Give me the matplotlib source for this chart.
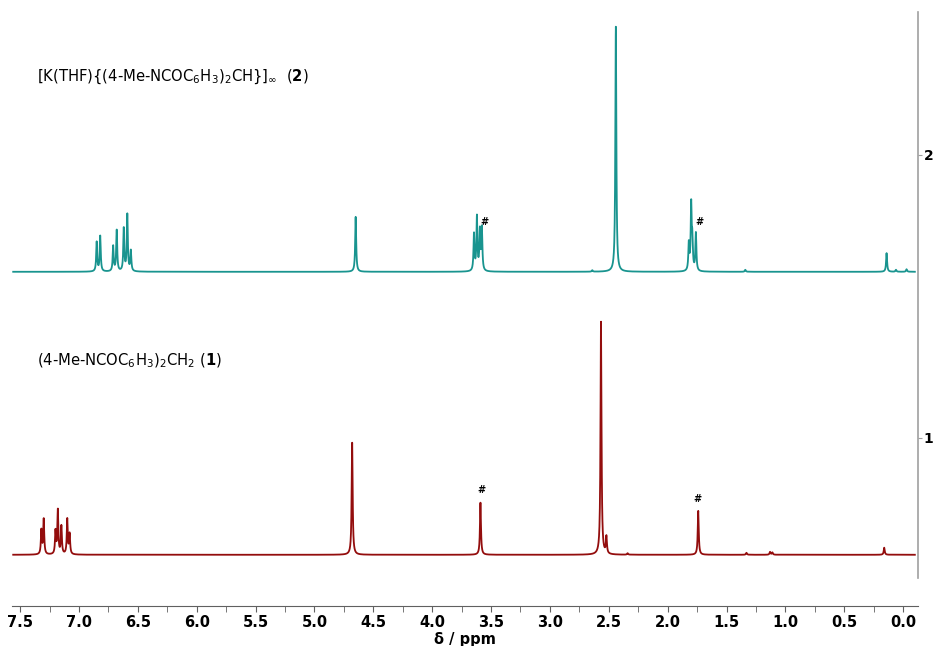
import numpy as np
import matplotlib.pyplot as plt
from matplotlib.ticker import MultipleLocator

# peak lists: position (ppm) and height (intensity above baseline)
top_ppm = [6.85, 6.82, 6.71, 6.68, 6.62, 6.59, 6.56, 4.65,
           3.645, 3.62, 3.595, 3.578, 2.64, 2.44,
           1.82, 1.80, 1.79, 1.76, 1.34, 0.14, 0.06, -0.03]
top_int = [0.104, 0.125, 0.089, 0.145, 0.151, 0.200, 0.072, 0.194,
           0.13, 0.19, 0.14, 0.15, 0.005, 0.866,
           0.095, 0.229, 0.10, 0.134, 0.007, 0.066, 0.007, 0.009]

bot_ppm = [7.32, 7.30, 7.20, 7.18, 7.15, 7.10, 7.08, 4.68,
           3.59, 2.566, 2.52, 2.34, 1.74, 1.33, 1.13, 1.11, 0.16]
bot_int = [0.085, 0.124, 0.081, 0.155, 0.099, 0.124, 0.071, 0.396,
           0.184, 0.823, 0.06, 0.005, 0.155, 0.007, 0.010, 0.008, 0.025]

top_offset = 1.587
bot_offset = 0.587

solvent_top = [3.56, 1.73]
solvent_bot = [3.58, 1.75]

label_top = r'[K(THF){(4-Me-NCOC$_6$H$_3$)$_2$CH}]$_\infty$  ($\mathbf{2}$)'
label_bot = r'(4-Me-NCOC$_6$H$_3$)$_2$CH$_2$ ($\mathbf{1}$)'

teal = '#19948f'
red = '#930d0d'
hwhm = 0.005


def spectrum(ppm, pos, amp, w=hwhm):
    y = np.zeros_like(ppm)
    for p, a in zip(pos, amp):
        y += a * w**2 / ((ppm - p)**2 + w**2)
    return y


plt.rcParams['mathtext.fontset'] = 'dejavusans'

fig = plt.figure(figsize=(9.34, 6.46), dpi=100)
ax = fig.add_axes([0.0128, 0.1053, 0.9701, 0.8761])

x = np.arange(-0.10, 7.56, 0.0005)
ax.plot(x, top_offset + spectrum(x, top_ppm, top_int), color=teal, lw=1.3)
ax.plot(x, bot_offset + spectrum(x, bot_ppm, bot_int), color=red, lw=1.3)

for p in solvent_top:
    ax.text(p, top_offset + 0.176, '#', fontsize=7, fontweight='bold',
            ha='center', va='center')
for p in solvent_bot:
    ax.text(p, bot_offset + 0.229 if p > 3 else bot_offset + 0.197, '#',
            fontsize=7, fontweight='bold', ha='center', va='center')

ax.text(0.0276, 0.885, label_top, transform=ax.transAxes, fontsize=10.6,
        va='center', ha='left')
ax.text(0.0276, 0.383, label_bot, transform=ax.transAxes, fontsize=10.6,
        va='center', ha='left')

ax.set_xlim(7.57, -0.127)
ax.set_ylim(0.505, 2.505)

for s in ['top', 'left']:
    ax.spines[s].set_visible(False)
ax.spines['right'].set_color('#a0a0a0')
ax.spines['right'].set_linewidth(1.2)
ax.spines['bottom'].set_position(('outward', 20))
ax.spines['bottom'].set_color('#606060')

ax.xaxis.set_major_locator(MultipleLocator(0.5))
ax.xaxis.set_minor_locator(MultipleLocator(0.25))
ax.tick_params(axis='x', which='both', direction='out', length=4,
               color='#606060', labelsize=10.5, pad=3)
for t in ax.get_xticklabels():
    t.set_fontweight('bold')
ax.xaxis.set_major_formatter(plt.FuncFormatter(lambda v, _: f'{v:.1f}'))

ax.yaxis.tick_right()
ax.set_yticks([1, 2])
ax.tick_params(axis='y', direction='out', length=3, color='#a0a0a0',
               labelsize=10, pad=1)
for t in ax.get_yticklabels():
    t.set_fontweight('bold')

ax.set_xlabel('δ / ppm', fontsize=10.5, fontweight='bold', labelpad=1)

fig.savefig('out.png', dpi=100)
